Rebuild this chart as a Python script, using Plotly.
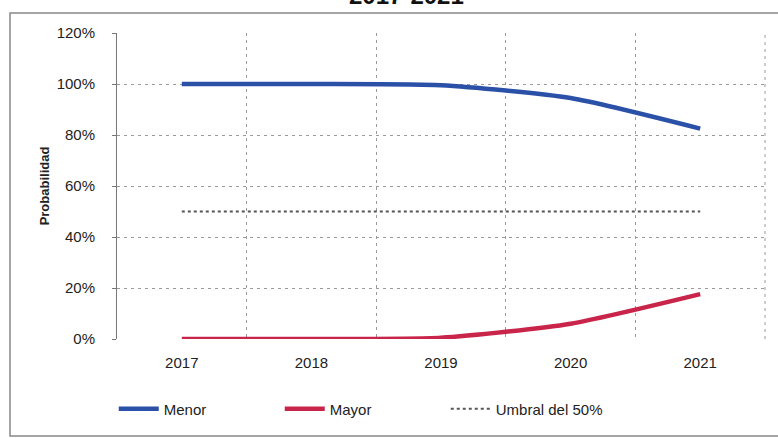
import plotly.graph_objects as go

years = ["2017", "2018", "2019", "2020", "2021"]
menor = [1.00, 1.00, 0.995, 0.945, 0.825]
mayor = [0.00, 0.00, 0.005, 0.06, 0.176]
umbral = [0.50, 0.50, 0.50, 0.50, 0.50]
y_ticks = [0, 0.2, 0.4, 0.6, 0.8, 1.0, 1.2]
y_ticklabels = ["0%", "20%", "40%", "60%", "80%", "100%", "120%"]

fig = go.Figure()
fig.add_trace(go.Scatter(x=years, y=menor, name="Menor", mode="lines",
                         line=dict(color="#2a50a8", width=4.5, shape="spline", smoothing=0.6)))
fig.add_trace(go.Scatter(x=years, y=mayor, name="Mayor", mode="lines",
                         line=dict(color="#c9254b", width=4.5, shape="spline", smoothing=0.6)))
fig.add_trace(go.Scatter(x=years, y=umbral, name="Umbral del 50%", mode="lines",
                         line=dict(color="#555555", width=2, dash="3px,3px")))

L, R, T, B = 117, 13, 33, 99
fig.update_layout(
    width=778, height=438,
    margin=dict(l=L, r=R, t=T, b=B, autoexpand=False),
    paper_bgcolor="white", plot_bgcolor="white",
    font=dict(family="Liberation Sans, Arial, sans-serif", size=15, color="#222222"),
    showlegend=True,
    legend=dict(orientation="h", x=-0.005, y=-0.175, xanchor="left", yanchor="top",
                entrywidth=111, entrywidthmode="pixels",
                font=dict(size=15), itemwidth=40, tracegroupgap=0),
    xaxis=dict(type="category", range=[-0.5, 4.5], tickson="boundaries",
               showgrid=True, gridcolor="#9a9a9a", griddash="3px,4px", gridwidth=1,
               showline=False, ticks="", zeroline=False, tickfont=dict(size=15),
               ticklabelstandoff=13),
    yaxis=dict(range=[0, 1.2], tickvals=y_ticks, ticktext=y_ticklabels,
               showgrid=True, gridcolor="#9a9a9a", griddash="3px,4px", gridwidth=1,
               showline=True, linecolor="#777777", linewidth=1,
               ticks="outside", ticklen=4, tickcolor="#777777",
               zeroline=False, tickfont=dict(size=15), ticklabelstandoff=14,
               title=dict(text="<b>Probabilidad</b>", font=dict(size=13), standoff=4)),
)

pw = 778 - L - R
ph = 438 - T - B
def px_x(p):
    return (p - L) / pw
def px_y(p):
    return (438 - B - p) / ph

# right-edge dashed gridline (category boundary after 2021)
fig.add_shape(type="line", xref="paper", yref="paper", x0=1, x1=1, y0=0, y1=1,
              line=dict(color="#9a9a9a", width=1, dash="3px,4px"))

fig.add_shape(type="rect", xref="paper", yref="paper",
              x0=px_x(10), x1=px_x(790), y0=px_y(436), y1=px_y(13),
              line=dict(color="#888888", width=1.5), fillcolor="rgba(0,0,0,0)", layer="below")

fig.add_annotation(text="<b>2017-2021</b>", xref="paper", yref="paper",
                   x=px_x(406), y=px_y(11), xanchor="center", yanchor="bottom",
                   showarrow=False, font=dict(size=24, color="#111111"))

fig.write_html("out.html", config={"displayModeBar": False},
               post_script="document.body.style.margin='0';document.body.style.overflow='hidden';")
